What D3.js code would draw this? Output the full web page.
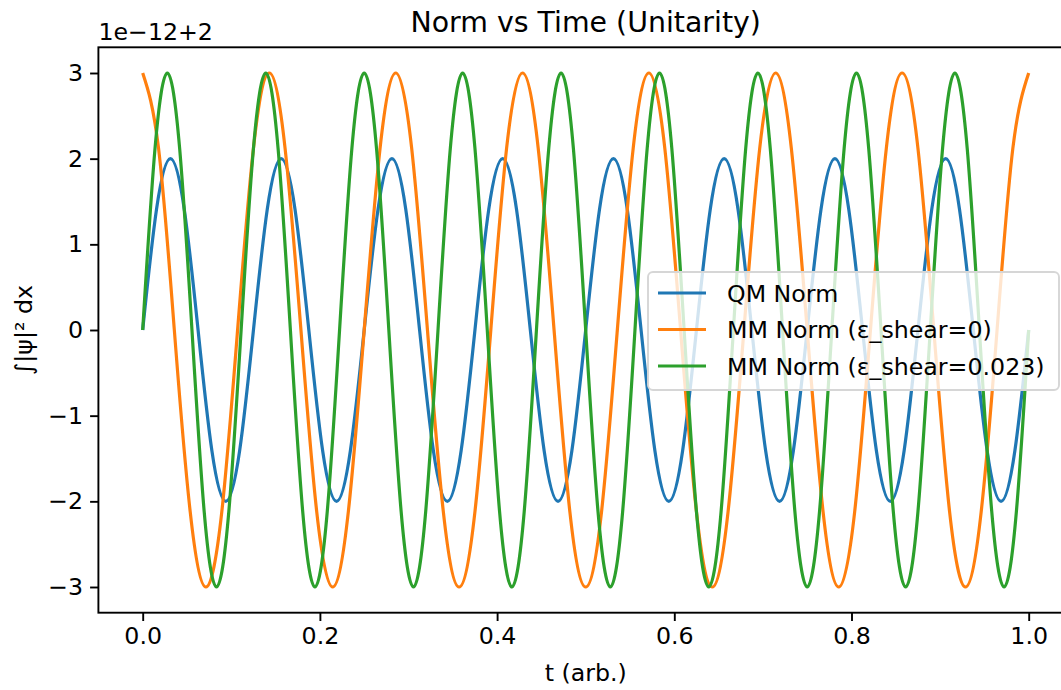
<!DOCTYPE html>
<html>
<head>
<meta charset="utf-8">
<script src="https://cdn.jsdelivr.net/npm/d3@7"></script>
<style>
  body { margin: 0; background: #fff; }
  text { font-family: "DejaVu Sans", sans-serif; fill: #000; }
</style>
</head>
<body>
<div id="chart"></div>
<script>
//*** data (offset 1e-12, plus 2) ***//
var tQM = [0, 0.0156, 0.0313, 0.0469, 0.0625, 0.0781, 0.0938, 0.1094,
  0.125, 0.1406, 0.1563, 0.1719, 0.1875, 0.2031, 0.2188, 0.2344,
  0.25, 0.2656, 0.2813, 0.2969, 0.3125, 0.3281, 0.3438, 0.3594,
  0.375, 0.3906, 0.4063, 0.4219, 0.4375, 0.4531, 0.4688, 0.4844,
  0.5, 0.5156, 0.5313, 0.5469, 0.5625, 0.5781, 0.5938, 0.6094,
  0.625, 0.6406, 0.6563, 0.6719, 0.6875, 0.7031, 0.7188, 0.7344,
  0.75, 0.7656, 0.7813, 0.7969, 0.8125, 0.8281, 0.8438, 0.8594,
  0.875, 0.8906, 0.9063, 0.9219, 0.9375, 0.9531, 0.9688, 0.9844, 1.0];
var normQM = [0, 1.41, 2, 1.41, 0, -1.41, -2, -1.41,
  0, 1.41, 2, 1.41, 0, -1.41, -2, -1.41,
  0, 1.41, 2, 1.41, 0, -1.41, -2, -1.41,
  0, 1.41, 2, 1.41, 0, -1.41, -2, -1.41,
  0, 1.41, 2, 1.41, 0, -1.41, -2, -1.41,
  0, 1.41, 2, 1.41, 0, -1.41, -2, -1.41,
  0, 1.41, 2, 1.41, 0, -1.41, -2, -1.41,
  0, 1.41, 2, 1.41, 0, -1.41, -2, -1.41, 0];

var tMM0 = [0, 0.0179, 0.0357, 0.0536, 0.0714, 0.0893, 0.1071, 0.125,
  0.1429, 0.1607, 0.1786, 0.1964, 0.2143, 0.2321, 0.25, 0.2679,
  0.2857, 0.3036, 0.3214, 0.3393, 0.3571, 0.375, 0.3929, 0.4107,
  0.4286, 0.4464, 0.4643, 0.4821, 0.5, 0.5179, 0.5357, 0.5536,
  0.5714, 0.5893, 0.6071, 0.625, 0.6429, 0.6607, 0.6786, 0.6964,
  0.7143, 0.7321, 0.75, 0.7679, 0.7857, 0.8036, 0.8214, 0.8393,
  0.8571, 0.875, 0.8929, 0.9107, 0.9286, 0.9464, 0.9643, 0.9821, 1.0];
var normMM0 = [3, 2.12, 0, -2.12, -3, -2.12, 0, 2.12,
  3, 2.12, 0, -2.12, -3, -2.12, 0, 2.12,
  3, 2.12, 0, -2.12, -3, -2.12, 0, 2.12,
  3, 2.12, 0, -2.12, -3, -2.12, 0, 2.12,
  3, 2.12, 0, -2.12, -3, -2.12, 0, 2.12,
  3, 2.12, 0, -2.12, -3, -2.12, 0, 2.12,
  3, 2.12, 0, -2.12, -3, -2.12, 0, 2.12, 3];

var tMM1 = [0, 0.0139, 0.0278, 0.0417, 0.0556, 0.0694, 0.0833, 0.0972,
  0.1111, 0.125, 0.1389, 0.1528, 0.1667, 0.1806, 0.1944, 0.2083,
  0.2222, 0.2361, 0.25, 0.2639, 0.2778, 0.2917, 0.3056, 0.3194,
  0.3333, 0.3472, 0.3611, 0.375, 0.3889, 0.4028, 0.4167, 0.4306,
  0.4444, 0.4583, 0.4722, 0.4861, 0.5, 0.5139, 0.5278, 0.5417,
  0.5556, 0.5694, 0.5833, 0.5972, 0.6111, 0.625, 0.6389, 0.6528,
  0.6667, 0.6806, 0.6944, 0.7083, 0.7222, 0.7361, 0.75, 0.7639,
  0.7778, 0.7917, 0.8056, 0.8194, 0.8333, 0.8472, 0.8611, 0.875,
  0.8889, 0.9028, 0.9167, 0.9306, 0.9444, 0.9583, 0.9722, 0.9861, 1.0];
var normMM1 = [0, 2.12, 3, 2.12, 0, -2.12, -3, -2.12,
  0, 2.12, 3, 2.12, 0, -2.12, -3, -2.12,
  0, 2.12, 3, 2.12, 0, -2.12, -3, -2.12,
  0, 2.12, 3, 2.12, 0, -2.12, -3, -2.12,
  0, 2.12, 3, 2.12, 0, -2.12, -3, -2.12,
  0, 2.12, 3, 2.12, 0, -2.12, -3, -2.12,
  0, 2.12, 3, 2.12, 0, -2.12, -3, -2.12,
  0, 2.12, 3, 2.12, 0, -2.12, -3, -2.12,
  0, 2.12, 3, 2.12, 0, -2.12, -3, -2.12, 0];

var seriesNames = ["QM Norm", "MM Norm (ε_shear=0)", "MM Norm (ε_shear=0.023)"];
var seriesColors = ["#1f77b4", "#ff7f0e", "#2ca02c"];
var xTicks = [0.0, 0.2, 0.4, 0.6, 0.8, 1.0];
var yTicks = [-3, -2, -1, 0, 1, 2, 3];

//*** svg and plot area ***//
var W = 1061, H = 690;
// plot box; the right spine falls just outside the picture
var plotL = 98.4, plotR = 1073, plotT = 47.3, plotB = 612.7;
var fs = 23.7;

var svg = d3.select("#chart")
  .append("svg")
  .attr("width", W)
  .attr("height", H);

var x = d3.scaleLinear().domain([-0.05, 1.05]).range([plotL, plotR]);
var y = d3.scaleLinear().domain([-3.3, 3.3]).range([plotB, plotT]);

svg.append("clipPath").attr("id", "clip")
  .append("rect")
  .attr("x", plotL).attr("y", plotT)
  .attr("width", plotR - plotL).attr("height", plotB - plotT);

//*** lines ***//
var series = [
  { t: tQM, v: normQM },
  { t: tMM0, v: normMM0 },
  { t: tMM1, v: normMM1 }
];

var line = d3.line()
  .x(function(d) { return x(d[0]); })
  .y(function(d) { return y(d[1]); })
  .curve(d3.curveNatural);

svg.append("g")
  .attr("clip-path", "url(#clip)")
  .selectAll("path")
  .data(series)
  .enter()
  .append("path")
  .attr("fill", "none")
  .attr("stroke", function(d, i) { return seriesColors[i]; })
  .attr("stroke-width", 3.2)
  .attr("stroke-linejoin", "round")
  .attr("d", function(d) {
    return line(d.t.map(function(t, i) { return [t, d.v[i]]; }));
  });

//*** axes ***//
var xAxis = d3.axisBottom(x)
  .tickValues(xTicks)
  .tickFormat(d3.format(".1f"))
  .tickSize(8.3)
  .tickPadding(6);

var yAxis = d3.axisLeft(y)
  .tickValues(yTicks)
  .tickFormat(function(d) { return d < 0 ? "\u2212" + Math.abs(d) : d; })
  .tickSize(8.3)
  .tickPadding(7);

var gx = svg.append("g")
  .attr("transform", "translate(0," + plotB + ")")
  .call(xAxis);

var gy = svg.append("g")
  .attr("transform", "translate(" + plotL + ",0)")
  .call(yAxis);

[gx, gy].forEach(function(g) {
  g.select(".domain").remove();
  g.selectAll(".tick line").attr("stroke", "#000").attr("stroke-width", 1.9);
  g.selectAll(".tick text")
    .attr("font-family", "DejaVu Sans")
    .attr("font-size", fs)
    .attr("fill", "#000");
});
gx.selectAll(".tick text").attr("dy", "0.71em");

// spines
svg.append("rect")
  .attr("x", plotL).attr("y", plotT)
  .attr("width", plotR - plotL).attr("height", plotB - plotT)
  .attr("fill", "none")
  .attr("stroke", "#000")
  .attr("stroke-width", 1.9);

//*** texts ***//
svg.append("text")
  .attr("x", (plotL + plotR) / 2)
  .attr("y", 32)
  .attr("text-anchor", "middle")
  .attr("font-size", 28.4)
  .text("Norm vs Time (Unitarity)");

svg.append("text")
  .attr("x", plotL)
  .attr("y", 40)
  .attr("font-size", fs)
  .text("1e\u221212+2");

svg.append("text")
  .attr("x", (plotL + plotR) / 2)
  .attr("y", 681)
  .attr("text-anchor", "middle")
  .attr("font-size", fs)
  .text("t (arb.)");

svg.append("text")
  .attr("transform", "translate(32," + ((plotT + plotB) / 2) + ") rotate(-90)")
  .attr("text-anchor", "middle")
  .attr("font-size", fs)
  .text("∫|ψ|² dx");

//*** legend ***//
var legend = svg.append("g");

legend.append("rect")
  .attr("x", 648).attr("y", 272)
  .attr("width", 411).attr("height", 118)
  .attr("rx", 5)
  .attr("fill", "#fff")
  .attr("fill-opacity", 0.8)
  .attr("stroke", "#d6d6d6")
  .attr("stroke-width", 1.9);

var rows = legend.selectAll("g.row")
  .data(seriesNames)
  .enter()
  .append("g")
  .attr("class", "row")
  .attr("transform", function(d, i) { return "translate(0," + (293 + i * 36.5) + ")"; });

rows.append("line")
  .attr("x1", 658).attr("x2", 706)
  .attr("stroke", function(d, i) { return seriesColors[i]; })
  .attr("stroke-width", 3.2);

rows.append("text")
  .attr("x", 727)
  .attr("dy", "0.36em")
  .attr("font-size", fs)
  .text(function(d) { return d; });
</script>
</body>
</html>
